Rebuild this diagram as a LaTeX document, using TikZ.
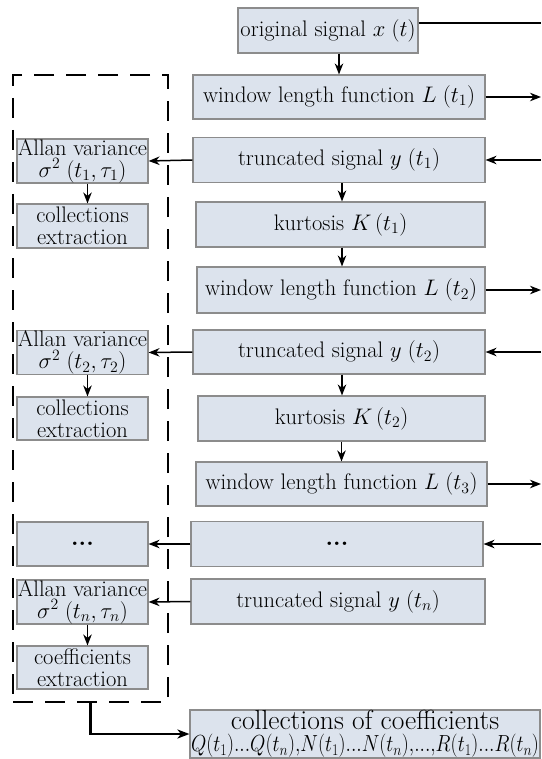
\RequirePackage{fix-cm}
\documentclass[tikz,border=0pt]{standalone}
\usetikzlibrary{arrows.meta}
\definecolor{boxfill}{HTML}{DCE3ED}
\definecolor{boxdraw}{HTML}{8C8C8C}
\begin{document}
\begin{tikzpicture}[x=1pt,y=-1pt,
  box/.style={draw=boxdraw, fill=boxfill, line width=1.1pt, inner sep=0pt, align=center,
    font=\fontsize{22.5}{24}\selectfont},
  lbox/.style={box, font=\fontsize{22.5}{22}\selectfont},
  arr/.style={line width=1.5pt, -{Stealth[length=11pt,width=8.5pt,inset=3.5pt]}},
  thk/.style={line width=2.8pt},
  grpbox/.style={draw, line width=2pt, dash pattern=on 20pt off 12pt, inner sep=0pt}
]
\useasboundingbox (0,0) rectangle (541,759);
\coordinate (redge) at (541,0);
\coordinate (otop) at (541,23);

% right column
\node[box, minimum width=180, minimum height=45] (orig) at (328,30.5) {original signal $x\;(t)$};
\node[box, minimum width=292, minimum height=44] (win1) at (339,97) {window length function $L\;(t_1)$};
\node[box, minimum width=292, minimum height=45] (trunc1) at (339,160) {truncated signal $y\;(t_1)$};
\node[box, minimum width=289, minimum height=45] (kurt1) at (340.5,224.5) {kurtosis $K\,(t_1)$};
\node[box, minimum width=288, minimum height=46] (win2) at (341,290) {window length function $L\;(t_2)$};
\node[box, minimum width=292, minimum height=44] (trunc2) at (339,352) {truncated signal $y\;(t_2)$};
\node[box, minimum width=287, minimum height=45] (kurt2) at (341.5,418.5) {kurtosis $K\,(t_2)$};
\node[box, minimum width=291, minimum height=44] (win3) at (341.5,484) {window length function $L\;(t_3)$};
\node[box, minimum width=292, minimum height=45] (rdots) at (337,544) {\fontsize{24}{24}\bfseries ...};
\node[box, minimum width=294, minimum height=45] (truncn) at (338,601.5) {truncated signal $y\;(t_n)$};
\node[box, minimum width=350, minimum height=48, font=\fontsize{27.5}{25}\selectfont] (coll) at (365,734)
  {collections of coefficients\\[-3pt] \resizebox{348pt}{!}{\scalebox{0.85}[1]{$Q(t_1)\mathord{.}\mathord{.}\mathord{.}Q(t_n){,}N(t_1)\mathord{.}\mathord{.}\mathord{.}N(t_n){,}\mathord{.}\mathord{.}\mathord{.}{,}R(t_1)\mathord{.}\mathord{.}\mathord{.}R(t_n)$}}};

% left column
\node[grpbox, minimum width=155, minimum height=627] (grp) at (90.5,388.5) {};
\node[lbox, minimum width=131, minimum height=44] (allan1) at (82.5,161) {Allan variance\\ $\sigma^2\;(t_1,\tau_1)$};
\node[lbox, minimum width=131, minimum height=44] (coll1) at (82.5,226) {collections\\ extraction};
\node[lbox, minimum width=131, minimum height=43] (allan2) at (82.5,352.5) {Allan variance\\ $\sigma^2\;(t_2,\tau_2)$};
\node[lbox, minimum width=131, minimum height=43] (coll2) at (82.5,418.5) {collections\\ extraction};
\node[lbox, minimum width=131, minimum height=44] (ldots) at (82.5,544) {\fontsize{24}{24}\bfseries ...};
\node[lbox, minimum width=131, minimum height=44] (allann) at (82.5,602) {Allan variance\\ $\sigma^2\;(t_n,\tau_n)$};
\node[lbox, minimum width=131, minimum height=43] (coefext) at (82.5,667.5) {coefficients\\ extraction};

% vertical flow
\draw[arr] (orig.south -| win1.north) -- (win1.north);
\draw[arr] ([xshift=3pt]trunc1.south) -- ([xshift=1.5pt]kurt1.north);
\draw[arr] ([xshift=1.5pt]kurt1.south) -- ([xshift=1pt]win2.north);
\draw[arr] ([xshift=3pt]trunc2.south) -- ([xshift=0.5pt]kurt2.north);
\draw[arr] ([xshift=0pt]kurt2.south) -- ([xshift=0pt]win3.north);
\draw[arr] ([xshift=5pt]allan1.south) -- ([xshift=5pt]coll1.north);
\draw[arr] ([xshift=5pt]allan2.south) -- ([xshift=5pt]coll2.north);
\draw[arr] ([xshift=5pt]allann.south) -- ([xshift=5pt]coefext.north);

% right edge connectors
\draw[thk] (otop -| orig.east) -- (otop);
\draw[arr] (win1.east) -- (win1.east -| redge);
\draw[arr] (win2.east) -- (win2.east -| redge);
\draw[arr] (win3.east) -- (win3.east -| redge);
\draw[arr] (trunc1.east -| redge) -- (trunc1.east);
\draw[arr] (trunc2.east -| redge) -- (trunc2.east);
\draw[arr] (rdots.east -| redge) -- (rdots.east);

% to left column
\draw[arr] (trunc1.west) -- (allan1.east);
\draw[arr] (trunc2.west) -- (allan2.east);
\draw[arr] (rdots.west) -- (ldots.east);
\draw[arr] (truncn.west) -- (allann.east);

% bottom
\draw[line width=2.5pt, -{Stealth[length=12pt,width=9pt,inset=3.5pt]}] (grp.south) |- (coll.west);
\end{tikzpicture}
\end{document}
